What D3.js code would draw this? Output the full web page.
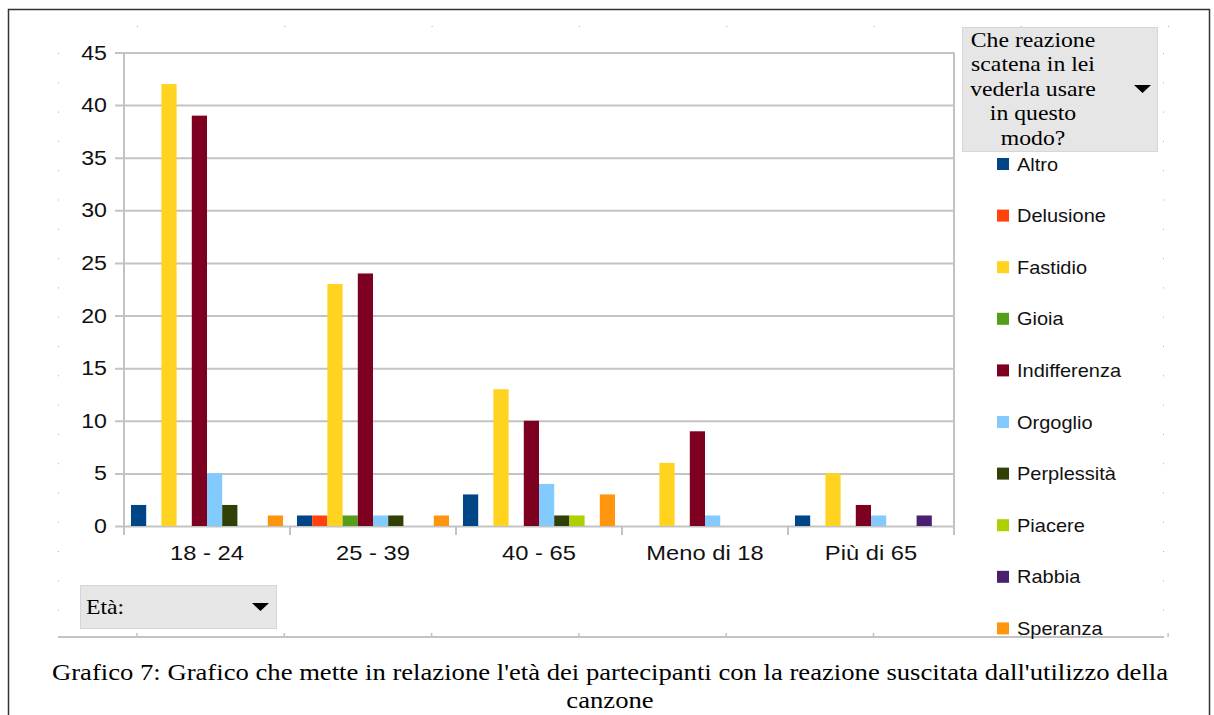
<!DOCTYPE html>
<meta charset="utf-8">
<style>
body { margin: 0; background: #fff; }
.sans { font-family: "Liberation Sans", Arial, sans-serif; fill: #111; }
.serif { font-family: "Liberation Serif", "Times New Roman", serif; fill: #000; }
</style>
<svg width="1214" height="715"></svg>
<script src="https://cdn.jsdelivr.net/npm/d3@7/dist/d3.min.js"></script>
<script>

// age groups on the x axis
var categories = ["18 - 24", "25 - 39", "40 - 65", "Meno di 18", "Più di 65"];

// reactions (series) and their colours
var series = ["Altro", "Delusione", "Fastidio", "Gioia", "Indifferenza",
              "Orgoglio", "Perplessità", "Piacere", "Rabbia", "Speranza"];
var colors = ["#004586", "#ff420e", "#ffd320", "#579d1c", "#7e0021",
              "#83caff", "#314004", "#aecf00", "#4b1f6f", "#ff950e"];

// counts per series, one value per age group
var altro        = [2, 1, 3, 0, 1];
var delusione    = [0, 1, 0, 0, 0];
var fastidio     = [42, 23, 13, 6, 5];
var gioia        = [0, 1, 0, 0, 0];
var indifferenza = [39, 24, 10, 9, 2];
var orgoglio     = [5, 1, 4, 1, 1];
var perplessita  = [2, 1, 1, 0, 0];
var piacere      = [0, 0, 1, 0, 0];
var rabbia       = [0, 0, 0, 0, 1];
var speranza     = [1, 1, 3, 0, 0];

var yTicks = [0, 5, 10, 15, 20, 25, 30, 35, 40, 45];

var legendTitle = ["Che reazione", "scatena in lei", "vederla usare", "in questo", "modo?"];
var rowField = "Età:";
var caption = ["Grafico 7: Grafico che mette in relazione l'età dei partecipanti con la reazione suscitata dall'utilizzo della",
               "canzone"];

var values = [altro, delusione, fastidio, gioia, indifferenza,
              orgoglio, perplessita, piacere, rabbia, speranza];

var svg = d3.select("svg");
var sx = 1.13;   // the picture is a bit wider than tall, stretch text to match
var grid = "#c3c3c3";

function txt(sel, x, y, s, cls, size, anchor) {
    return sel.append("text")
        .attr("class", cls)
        .attr("transform", "translate(" + x + "," + y + ") scale(" + sx + ",1)")
        .attr("font-size", size)
        .attr("text-anchor", anchor || "start")
        .text(s);
}

// outer frame
svg.append("rect").attr("x", 8.5).attr("y", 9.5).attr("width", 1201).attr("height", 720)
    .attr("fill", "none").attr("stroke", "#333").attr("stroke-width", 1.5);

// page/ruler marks around the chart area
var deco = svg.append("g").attr("fill", "#aaa");
d3.range(0, 20).forEach(function(k) {
    var yy = 53 + 29.3 * k;
    deco.append("rect").attr("x", 58).attr("y", yy).attr("width", 1).attr("height", 1);
    deco.append("rect").attr("x", 1163).attr("y", yy).attr("width", 1).attr("height", 1);
});
d3.range(0, 8).forEach(function(k) {
    var xx = 137 + 147.3 * k;
    deco.append("rect").attr("x", xx).attr("y", 26).attr("width", 1).attr("height", 1);
    svg.append("line").attr("x1", xx).attr("x2", xx).attr("y1", 633).attr("y2", 637)
        .attr("stroke", grid).attr("stroke-width", 1.5);
});
svg.append("line").attr("x1", 58).attr("x2", 1164).attr("y1", 637).attr("y2", 637)
    .attr("stroke", grid).attr("stroke-width", 2);

// scales
var x0 = d3.scaleBand().domain(categories).range([124, 954]).padding(0);
var x1 = d3.scaleBand().domain(series).range([0, x0.bandwidth()]).paddingInner(0).paddingOuter(0.46);
var y = d3.scaleLinear().domain([0, 45]).range([526, 52.5]);

// gridlines with outward ticks
var g = svg.append("g");
g.append("g")
    .attr("transform", "translate(954,0)")
    .call(d3.axisLeft(y).tickValues(yTicks).tickSize(954 - 115).tickFormat(""))
    .call(function(a) {
        a.select(".domain").remove();
        a.selectAll("line").attr("stroke", grid).attr("stroke-width", 2);
    });

// right wall and left axis line
g.append("line").attr("x1", 954).attr("x2", 954).attr("y1", y(45)).attr("y2", y(0))
    .attr("stroke", grid).attr("stroke-width", 2);
g.append("line").attr("x1", 124).attr("x2", 124).attr("y1", y(45)).attr("y2", y(0) + 9)
    .attr("stroke", grid).attr("stroke-width", 2);

// category ticks
categories.forEach(function(c, i) {
    var xx = x0(c) + x0.bandwidth();
    g.append("line").attr("x1", xx).attr("x2", xx).attr("y1", y(0)).attr("y2", y(0) + 9)
        .attr("stroke", grid).attr("stroke-width", 2);
});

// bars
var groups = svg.append("g").selectAll("g")
    .data(categories)
    .enter().append("g")
    .attr("transform", function(c) { return "translate(" + x0(c) + ",0)"; });

groups.selectAll("rect")
    .data(function(c, i) {
        return series.map(function(s, j) { return {s: s, v: values[j][i], c: colors[j]}; });
    })
    .enter().append("rect")
    .filter(function(d) { return d.v > 0; })
    .attr("x", function(d) { return x1(d.s); })
    .attr("y", function(d) { return y(d.v); })
    .attr("width", x1.bandwidth())
    .attr("height", function(d) { return y(0) - y(d.v); })
    .attr("fill", function(d) { return d.c; });

// y labels
yTicks.forEach(function(t) {
    txt(svg, 107, y(t) + 7, t, "sans", 20.5, "end");
});

// x labels
categories.forEach(function(c) {
    txt(svg, x0(c) + x0.bandwidth() / 2, 560, c, "sans", 21, "middle");
});

// legend field button
svg.append("rect").attr("x", 962.5).attr("y", 27.5).attr("width", 195).attr("height", 124)
    .attr("fill", "#e6e6e6").attr("stroke", "#d6d6d6");
legendTitle.forEach(function(l, i) {
    txt(svg, 1033, 47 + 24.4 * i, l, "serif", 21, "middle");
});
svg.append("path").attr("d", "M1134,85 L1151,85 L1142.5,93 Z").attr("fill", "#000");

// legend entries
var leg = svg.append("g");
series.forEach(function(s, i) {
    var yy = 164 + 51.6 * i;
    leg.append("rect").attr("x", 997).attr("y", yy - 6).attr("width", 12).attr("height", 12)
        .attr("fill", colors[i]);
    txt(leg, 1017, yy + 6.5, s, "sans", 17.7, "start");
});

// row field button
svg.append("rect").attr("x", 80.5).attr("y", 585.5).attr("width", 196).attr("height", 43)
    .attr("fill", "#e6e6e6").attr("stroke", "#d6d6d6");
txt(svg, 86, 614, rowField, "serif", 21, "start");
svg.append("path").attr("d", "M252,603 L269,603 L260.5,611 Z").attr("fill", "#000");

// caption
caption.forEach(function(l, i) {
    txt(svg, 610, 680 + 28 * i, l, "serif", 23.6, "middle");
});

</script>
